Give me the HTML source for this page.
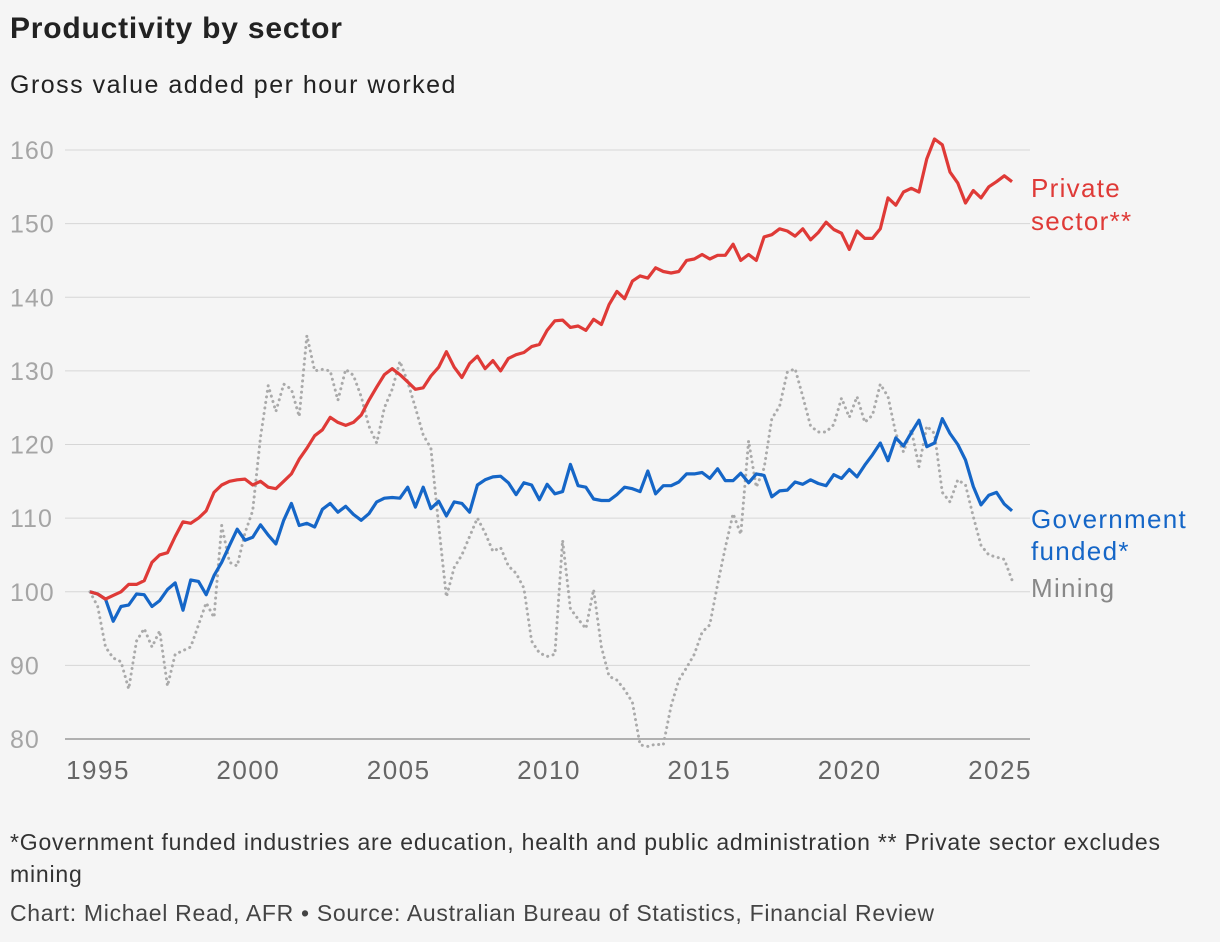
<!DOCTYPE html>
<html><head><meta charset="utf-8">
<style>
body{margin:0;background:#f5f5f5;font-family:"Liberation Sans",sans-serif;}
#wrap{position:relative;width:1220px;height:942px;overflow:hidden;background:#f5f5f5;}
.t{position:absolute;white-space:nowrap;}
</style></head><body>
<div id="wrap">
<div class="t" style="left:10px;top:12px;font-size:30px;font-weight:bold;color:#222;letter-spacing:0.8px;">Productivity by sector</div>
<div class="t" style="left:10px;top:71px;font-size:25px;color:#222;letter-spacing:1.5px;">Gross value added per hour worked</div>
<svg id="chart" width="1220" height="800" style="position:absolute;left:0;top:0;"></svg>
<div class="t" style="left:10px;top:826px;font-size:23px;color:#333;line-height:32px;white-space:normal;width:1180px;letter-spacing:0.8px;">*Government funded industries are education, health and public administration ** Private sector excludes mining</div>
<div class="t" style="left:10px;top:900px;font-size:23px;color:#444;letter-spacing:0.7px;">Chart: Michael Read, AFR • Source: Australian Bureau of Statistics, Financial Review</div>
</div>
<script>
const yTicks=[80,90,100,110,120,130,140,150,160];
const xTickYears=[1995,2000,2005,2010,2015,2020,2025];
const privateSector=[100,99.7,99,99.5,100,101,101,101.5,104,105,105.3,107.5,109.5,109.3,110,111,113.5,114.5,115,115.2,115.3,114.5,115,114.2,114,115,116,118,119.5,121.2,122,123.7,123,122.6,123,124,126,127.8,129.5,130.3,129.5,128.5,127.5,127.7,129.3,130.5,132.6,130.5,129.1,131,132,130.3,131.4,130,131.7,132.2,132.5,133.3,133.6,135.5,136.8,136.9,135.9,136.1,135.5,137,136.3,139,140.8,139.8,142.2,142.9,142.6,144,143.5,143.3,143.5,145,145.2,145.8,145.2,145.7,145.7,147.2,145,145.8,145,148.2,148.5,149.3,149,148.3,149.3,147.8,148.8,150.2,149.2,148.7,146.5,149,148,148,149.3,153.5,152.5,154.3,154.8,154.3,158.8,161.5,160.7,157,155.5,152.8,154.5,153.5,155,155.7,156.5,155.7];
const governmentFunded=[100,99.7,99,96,98,98.2,99.7,99.6,98,98.8,100.3,101.2,97.5,101.6,101.4,99.6,102.2,104,106.3,108.5,107,107.4,109.1,107.7,106.5,109.7,112,109,109.3,108.8,111.2,112,110.8,111.6,110.5,109.7,110.6,112.2,112.7,112.8,112.7,114.2,111.5,114.2,111.3,112.3,110.3,112.2,112,110.8,114.5,115.2,115.6,115.7,114.8,113.2,114.8,114.5,112.5,114.6,113.3,113.6,117.3,114.4,114.2,112.6,112.4,112.4,113.2,114.2,114,113.6,116.4,113.3,114.4,114.4,114.9,116,116,116.2,115.4,116.7,115.1,115.1,116.1,114.8,116,115.8,112.9,113.7,113.8,114.9,114.6,115.2,114.7,114.4,115.9,115.4,116.6,115.6,117.2,118.6,120.2,117.8,120.9,119.8,121.6,123.3,119.7,120.2,123.5,121.5,120,117.9,114.3,111.8,113.1,113.5,111.9,111];
const mining=[100,98,92.5,91,90.5,86.8,93.3,95,92.5,94.7,87.2,91.5,92,92.5,95.5,98.5,96.5,109,104,103.5,108,111,121,128,124.5,128.2,127.5,123.8,134.8,130,130.2,130,126,130.2,129.4,126.5,122.5,120.2,125,127.5,131.3,128.5,125,121.3,119.5,109,99.3,103.3,105,107.5,110,108,105.5,106,103.5,102.5,100.5,93.3,91.7,91.2,91.5,107,97.7,96.3,95,100.3,92.5,88.5,88,86.7,85,79.2,79,79.3,79.2,84.5,88,89.7,91.5,94.5,95.5,101,106,110.6,107.8,120.5,114.2,116.8,123.5,125.2,129.8,130.3,126.5,122.5,121.7,121.7,122.7,126.3,123.7,126.5,123,124,128.2,126.5,121.5,119,122,117,122.5,121.5,113.5,112.2,115.2,114.5,110.2,106.3,105,104.7,104.4,101.6];

const NS='http://www.w3.org/2000/svg';
const svg=document.getElementById('chart');
function yS(v){return 739-(v-80)*(589/80);}
function xIdx(i,n){return 90+i*(922/(n-1));}
function xYear(yr){return 98+(yr-1995)*(902/30);}
function mk(tag,attrs){const e=document.createElementNS(NS,tag);for(const k in attrs)e.setAttribute(k,attrs[k]);svg.appendChild(e);return e;}

yTicks.forEach(v=>{
  const l=mk('line',{x1:65,x2:1030,y1:yS(v),y2:yS(v),stroke:v===80?'#999':'#d6d6d6','stroke-width':v===80?1.5:1});
  
  
  const t=mk('text',{x:10,y:yS(v)+9,'font-size':25,fill:'#a5a5a5','letter-spacing':1,'font-family':'Liberation Sans, sans-serif'});
  t.textContent=v;
  
  
});
xTickYears.forEach(yr=>{
  const t=mk('text',{x:xYear(yr),y:779,'font-size':26,fill:'#666','letter-spacing':1.5,'text-anchor':'middle','font-family':'Liberation Sans, sans-serif'});
  t.textContent=yr;
  
  
});
function line(arr,color,name,dash){
  const d=arr.map((v,i)=>(i?'L':'M')+xIdx(i,arr.length).toFixed(1)+','+yS(v).toFixed(1)).join('');
  const attrs={d:d,fill:'none',stroke:color,'stroke-width':dash?3:3.2,'stroke-linejoin':'round'};
  if(dash){attrs['stroke-dasharray']='0.1 5.5';attrs['stroke-linecap']='round';}
  const p=mk('path',attrs);
  
  
}
line(mining,'#aaaaaa','mining-line',true);
line(governmentFunded,'#1566c7','government-funded-line',false);
line(privateSector,'#df3a37','private-sector-line',false);
function lab(txt,x,y,color,name){
  const t=mk('text',{x:x,y:y,'font-size':26,'letter-spacing':1.3,fill:color,'font-family':'Liberation Sans, sans-serif'});
  t.textContent=txt;
  
  
}
lab('Private',1031,197,'#df3a37','private-label');
lab('sector**',1031,230,'#df3a37','private-label-2');
lab('Government',1031,528,'#1566c7','government-label');
lab('funded*',1031,560,'#1566c7','government-label-2');
lab('Mining',1031,597,'#888','mining-label');
</script>
</body></html>
